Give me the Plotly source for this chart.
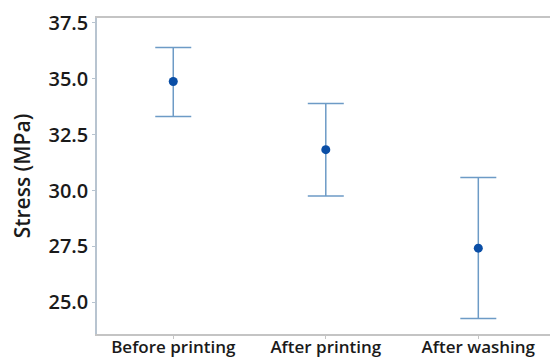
import plotly.graph_objects as go

# Interval plot of stress for each processing stage
stages = ["Before printing", "After printing", "After washing"]
mean_stress = [34.88, 31.83, 27.42]
upper_limit = [36.40, 33.89, 30.58]
lower_limit = [33.31, 29.76, 24.27]

err_plus = [u - m for u, m in zip(upper_limit, mean_stress)]
err_minus = [m - l for m, l in zip(mean_stress, lower_limit)]

y_ticks = [25.0, 27.5, 30.0, 32.5, 35.0, 37.5]

font_family = "Open Sans, Noto Sans, sans-serif"

fig = go.Figure(
    go.Scatter(
        x=[0, 1, 2],
        y=mean_stress,
        mode="markers",
        marker=dict(color="#0a4ea6", size=9),
        error_y=dict(
            type="data",
            symmetric=False,
            array=err_plus,
            arrayminus=err_minus,
            color="#6d9bc6",
            thickness=1.5,
            width=18,
        ),
        showlegend=False,
    )
)

fig.update_layout(
    width=550,
    height=358,
    margin=dict(l=97, r=0, t=18, b=24),
    paper_bgcolor="white",
    plot_bgcolor="white",
    font=dict(family=font_family, color="#1a1a1a"),
    xaxis=dict(
        range=[-0.5, 2.47],
        tickmode="array",
        tickvals=[0, 1, 2],
        ticktext=stages,
        tickfont=dict(size=17, weight=600),
        ticklabelstandoff=-6,
        showgrid=False,
        zeroline=False,
        showline=True,
        linecolor="#c4c4c4",
        linewidth=1.5,
        mirror=True,
        ticks="outside",
        ticklen=3,
        tickcolor="#c4c4c4",
        automargin=False,
    ),
    yaxis=dict(
        range=[23.58, 37.72],
        tickmode="array",
        tickvals=y_ticks,
        ticktext=[f"{v:.1f}" for v in y_ticks],
        tickfont=dict(size=20, weight=600),
        showgrid=False,
        zeroline=False,
        showline=True,
        linecolor="#b8c4d0",
        linewidth=1.5,
        ticks="outside",
        ticklen=3,
        tickcolor="#b8c4d0",
        title=dict(text="Stress (MPa)", font=dict(size=21, weight=600), standoff=12),
        automargin=False,
    ),
)

fig.write_html("out.html")
